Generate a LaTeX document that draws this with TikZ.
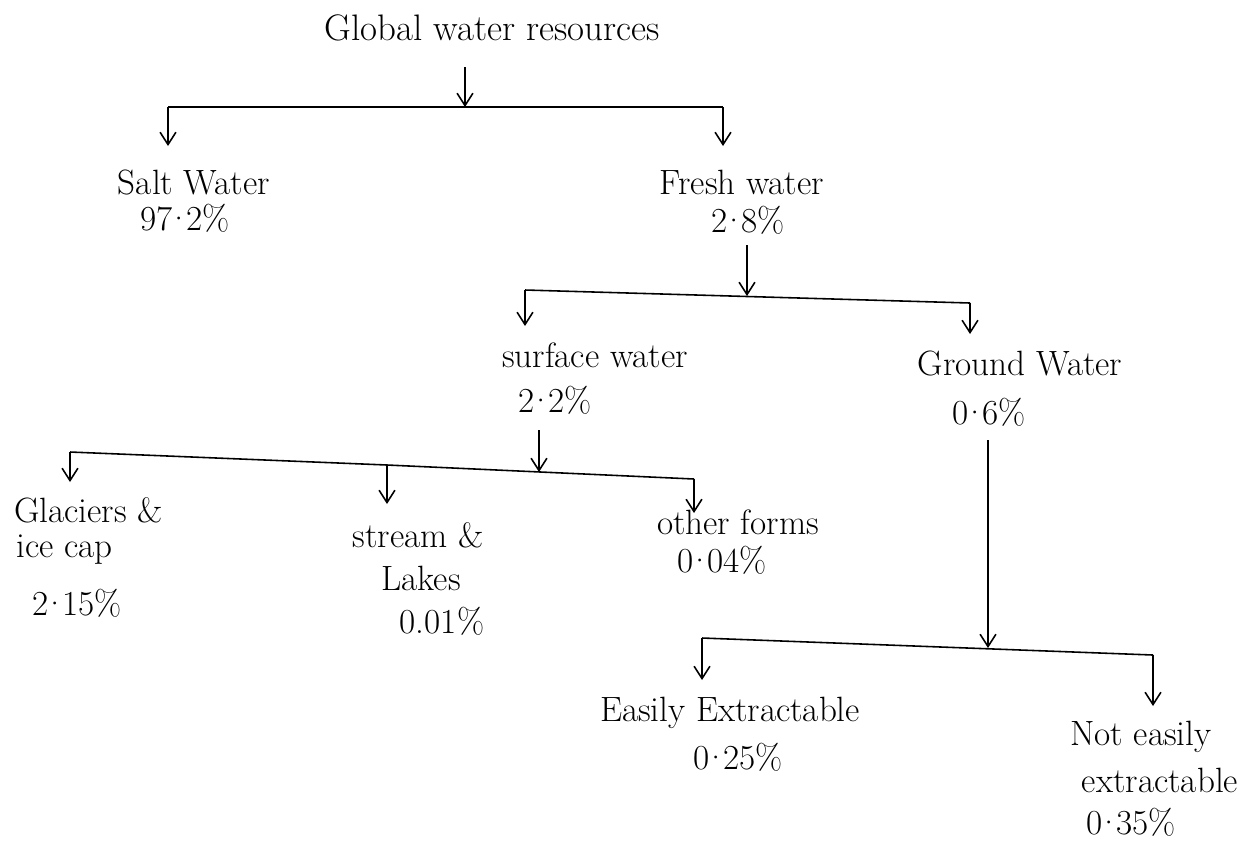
\documentclass[tikz,border=0pt]{standalone}
\usepackage{fontspec}
\usepackage{tikz}
\usetikzlibrary{arrows.meta}
\newcommand{\pc}{\kern-.17em·\kern-.17em}
\begin{document}
\begin{tikzpicture}[x=0.02cm, y=-0.02cm]
	\tikzset{etiquette/.style={inner sep=0.5pt, font=\fontsize{20}{24}\selectfont}, fleche/.style={-{Straight Barb[length=7pt, width=9pt]}, line width=0.9pt}, trait/.style={line width=0.9pt}};
	\useasboundingbox (0,0) rectangle (1253,843);

	\node[etiquette, font=\fontsize{21}{24}\selectfont] (glob) at ( 492,  28) {Global water resources};
	\node[etiquette] (salt) at ( 194, 182) {Salt Water};
	\node[etiquette] (saltp) at ( 185, 218) {97\pc2\%};
	\node[etiquette] (fresh) at ( 742, 182) {Fresh water};
	\node[etiquette] (freshp) at ( 748, 220) {2\pc8\%};
	\node[etiquette] (surf) at ( 595, 355) {surface water};
	\node[etiquette] (surfp) at ( 555, 400) {2\pc2\%};
	\node[etiquette] (grnd) at (1020, 363) {Ground Water};
	\node[etiquette] (grndp) at ( 989, 412) {0\pc6\%};
	\node[etiquette, anchor=west] (glac) at (  13, 510) {Glaciers \&};
	\node[etiquette, anchor=west] (glac2) at (  15, 550) {ice cap};
	\node[etiquette] (glacp) at (  77, 603) {2\pc15\%};
	\node[etiquette] (strm) at ( 418, 535) {stream \&};
	\node[etiquette] (strm2) at ( 421, 578) {Lakes};
	\node[etiquette] (strmp) at ( 442, 621) {0.01\%};
	\node[etiquette] (othr) at ( 738, 522) {other forms};
	\node[etiquette] (othrp) at ( 722, 560) {0\pc04\%};
	\node[etiquette] (easy) at ( 730, 713) {Easily Extractable};
	\node[etiquette] (easyp) at ( 738, 757) {0\pc25\%};
	\node[etiquette] (neasy) at (1141, 737) {Not easily};
	\node[etiquette] (neasy2) at (1160, 780) {extractable};
	\node[etiquette] (neasyp) at (1131, 822) {0\pc35\%};

	% jonctions
	\coordinate (d1) at ( 465,  67);
	\coordinate (j1) at ( 465, 107);
	\coordinate (j1g) at ( 168, 107);
	\coordinate (j1d) at ( 723, 107);
	\coordinate (f1g) at ( 168, 146);
	\coordinate (f1d) at ( 723, 146);

	\coordinate (d2) at ( 747, 245);
	\coordinate (j2) at ( 747, 296);
	\coordinate (j2g) at ( 525, 290);
	\coordinate (j2d) at ( 970, 303);
	\coordinate (f2g) at ( 525, 326);
	\coordinate (f2d) at ( 970, 334);

	\coordinate (d3) at ( 539, 430);
	\coordinate (j3) at ( 539, 472);
	\coordinate (j3g) at (  70, 452);
	\coordinate (j3m) at ( 387, 465);
	\coordinate (j3d) at ( 694, 479);
	\coordinate (f3g) at (  70, 482);
	\coordinate (f3m) at ( 387, 504);
	\coordinate (f3d) at ( 694, 513);

	\coordinate (d4) at ( 988, 440);
	\coordinate (j4) at ( 988, 648);
	\coordinate (j4g) at ( 702, 638);
	\coordinate (j4d) at (1153, 655);
	\coordinate (f4g) at ( 702, 680);
	\coordinate (f4d) at (1153, 706);

	\draw[fleche] (d1) to (j1);
	\draw[trait] (j1g) to (j1d);
	\draw[fleche] (j1g) to (f1g);
	\draw[fleche] (j1d) to (f1d);

	\draw[fleche] (d2) to (j2);
	\draw[trait] (j2g) to (j2d);
	\draw[fleche] (j2g) to (f2g);
	\draw[fleche] (j2d) to (f2d);

	\draw[fleche] (d3) to (j3);
	\draw[trait] (j3g) to (j3m) to (j3d);
	\draw[fleche] (j3g) to (f3g);
	\draw[fleche] (j3m) to (f3m);
	\draw[fleche] (j3d) to (f3d);

	\draw[fleche] (d4) to (j4);
	\draw[trait] (j4g) to (j4d);
	\draw[fleche] (j4g) to (f4g);
	\draw[fleche] (j4d) to (f4d);

\end{tikzpicture}
\end{document}
